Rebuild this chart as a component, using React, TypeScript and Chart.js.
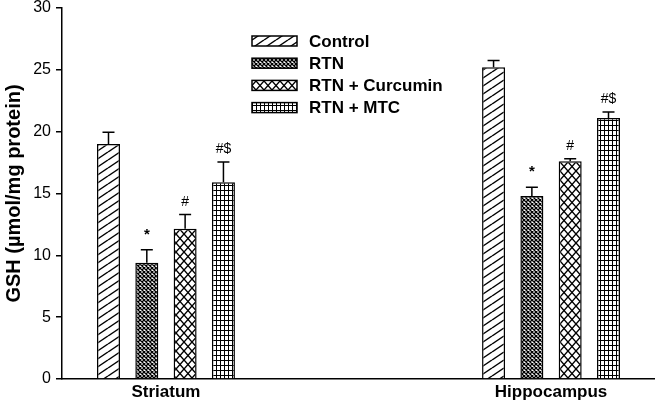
import React, { useEffect, useRef } from 'react';
import { Chart, registerables } from 'chart.js';

Chart.register(...registerables);

// ---------- data ----------
const categories = ['Striatum', 'Hippocampus'];
const seriesLabels = ['Control', 'RTN', 'RTN + Curcumin', 'RTN + MTC'];
const controlValues = [19.0, 25.2];
const rtnValues = [9.4, 14.8];
const curcuminValues = [12.15, 17.6];
const mtcValues = [15.9, 21.1];
const controlErrors = [0.95, 0.55];
const rtnErrors = [1.05, 0.7];
const curcuminErrors = [1.15, 0.2];
const mtcErrors = [1.65, 0.5];
const controlMarks = ['', ''];
const rtnMarks = ['*', '*'];
const curcuminMarks = ['#', '#'];
const mtcMarks = ['#$', '#$'];
const yTicks = [0, 5, 10, 15, 20, 25, 30];
const yTitle = 'GSH (\u00b5mol/mg protein)';

const FONT = '"Liberation Sans", Arial, Helvetica, sans-serif';

function makePattern(kind: string): CanvasPattern | string {
  const c = document.createElement('canvas');
  let w = 8, h = 8;
  if (kind === 'diag') { w = 12; h = 8; }
  if (kind === 'dense') { w = 4; h = 4; }
  if (kind === 'cross') { w = 8; h = 9; }
  if (kind === 'grid') { w = 4; h = 5; }
  c.width = w; c.height = h;
  const g = c.getContext('2d')!;
  g.fillStyle = '#fff';
  g.fillRect(0, 0, w, h);
  g.strokeStyle = '#000';
  g.fillStyle = '#000';
  if (kind === 'diag') {
    g.lineWidth = 1.4;
    for (const dy of [-h, 0, h]) {
      g.beginPath();
      g.moveTo(0, h + dy);
      g.lineTo(w, dy);
      g.stroke();
    }
  } else if (kind === 'dense' || kind === 'cross') {
    g.lineWidth = kind === 'dense' ? 1.3 : 1.4;
    for (const dx of [-w, 0, w]) {
      for (const dy of [-h, 0, h]) {
        g.beginPath();
        g.moveTo(dx, dy);
        g.lineTo(dx + w, dy + h);
        g.moveTo(dx, dy + h);
        g.lineTo(dx + w, dy);
        g.stroke();
      }
    }
  } else if (kind === 'grid') {
    g.fillRect(0, 0, w, 1);
    g.fillRect(0, 0, 1, h);
  }
  return g.createPattern(c, 'repeat') || '#fff';
}

const overlayPlugin = {
  id: 'overlay',
  afterDatasetsDraw(chart: any) {
    const ctx = chart.ctx;
    const yScale = chart.scales.y;
    chart.data.datasets.forEach((ds: any, i: number) => {
      const meta = chart.getDatasetMeta(i);
      meta.data.forEach((bar: any, j: number) => {
        const v = ds.data[j].y;
        const e = ds.errors[j];
        const top = yScale.getPixelForValue(v + e);
        ctx.save();
        ctx.strokeStyle = '#000';
        ctx.lineWidth = 1.5;
        ctx.beginPath();
        ctx.moveTo(bar.x, bar.y);
        ctx.lineTo(bar.x, top);
        ctx.moveTo(bar.x - 6, top);
        ctx.lineTo(bar.x + 6, top);
        ctx.stroke();
        const mark = ds.marks[j];
        if (mark) {
          ctx.fillStyle = '#000';
          const star = mark === '*';
          ctx.font = star ? `bold 15px ${FONT}` : `14px ${FONT}`;
          ctx.textAlign = 'center';
          ctx.textBaseline = 'alphabetic';
          ctx.fillText(mark, bar.x, top - (star ? 11 : 9));
        }
        ctx.restore();
      });
    });
  },
  afterDraw(chart: any, _args: any, opts: any) {
    const ctx = chart.ctx;
    ctx.save();
    chart.data.datasets.forEach((ds: any, i: number) => {
      const cy = opts.y0 + i * opts.dy;
      ctx.fillStyle = ds.backgroundColor;
      ctx.fillRect(opts.x, cy - opts.h / 2, opts.w, opts.h);
      ctx.strokeStyle = '#000';
      ctx.lineWidth = 1.5;
      ctx.strokeRect(opts.x, cy - opts.h / 2, opts.w, opts.h);
      ctx.fillStyle = '#000';
      ctx.font = `bold 17px ${FONT}`;
      ctx.textAlign = 'left';
      ctx.textBaseline = 'middle';
      ctx.fillText(ds.label, opts.textX, cy + 1);
    });
    ctx.restore();
  },
};

export default function App() {
  const ref = useRef<HTMLCanvasElement | null>(null);

  useEffect(() => {
    document.body.style.margin = '0';
    const kinds = ['diag', 'dense', 'cross', 'grid'];
    const values = [controlValues, rtnValues, curcuminValues, mtcValues];
    const errors = [controlErrors, rtnErrors, curcuminErrors, mtcErrors];
    const marks = [controlMarks, rtnMarks, curcuminMarks, mtcMarks];
    const datasets = seriesLabels.map((label, k) => ({
      label,
      data: categories.map((_, i) => ({ x: i, y: values[k][i] })),
      errors: errors[k],
      marks: marks[k],
      backgroundColor: makePattern(kinds[k]),
      borderColor: '#000',
      borderWidth: 1.5,
      categoryPercentage: 0.398,
      barPercentage: 0.6,
    }));

    const chart = new Chart(ref.current as HTMLCanvasElement, {
      type: 'bar',
      data: { datasets } as any,
      options: {
        animation: false,
        responsive: false,
        layout: { padding: { top: 8, right: 0, bottom: 0, left: 0 } },
        plugins: {
          legend: { display: false },
          tooltip: { enabled: false },
          overlay: { x: 252, y0: 41, dy: 22.2, w: 45, h: 10, textX: 309 },
        } as any,
        scales: {
          x: {
            type: 'linear',
            offset: false,
            bounds: 'data',
            min: -0.27,
            max: 1.27,
            afterBuildTicks: (s: any) => {
              s.ticks = categories.map((_, i) => ({ value: i }));
            },
            ticks: {
              callback: (v: any) => categories[v] ?? '',
              color: '#000',
              font: { family: FONT, size: 17, weight: 'bold' },
              padding: 3,
              maxRotation: 0,
              autoSkip: false,
            },
            grid: { display: false, drawTicks: false, offset: false },
            border: { display: true, color: '#000', width: 1.5 },
            afterFit: (s: any) => {
              s.height = 23;
              s.paddingLeft = 0;
              s.paddingRight = 0;
            },
          },
          y: {
            min: 0,
            max: 30,
            afterBuildTicks: (s: any) => {
              s.ticks = yTicks.map((v) => ({ value: v }));
            },
            ticks: {
              color: '#000',
              font: { family: FONT, size: 16 },
              padding: 5,
            },
            grid: {
              display: true,
              drawOnChartArea: false,
              drawTicks: true,
              tickLength: 6,
              color: '#000',
              lineWidth: 1.5,
            },
            border: { display: true, color: '#000', width: 1.5 },
            title: {
              display: true,
              text: yTitle,
              color: '#000',
              font: { family: FONT, size: 20, weight: 'bold' },
              padding: { top: 2, bottom: 0 },
            },
            afterFit: (s: any) => {
              s.width = 62;
              s.paddingTop = 0;
              s.paddingBottom = 0;
            },
          },
        } as any,
      },
      plugins: [overlayPlugin],
    });
    return () => chart.destroy();
  }, []);

  return (
    <div style={{ width: 655, height: 402 }}>
      <canvas
        ref={ref}
        width={655}
        height={402}
        style={{ display: 'block', width: 655, height: 402 }}
      />
    </div>
  );
}
